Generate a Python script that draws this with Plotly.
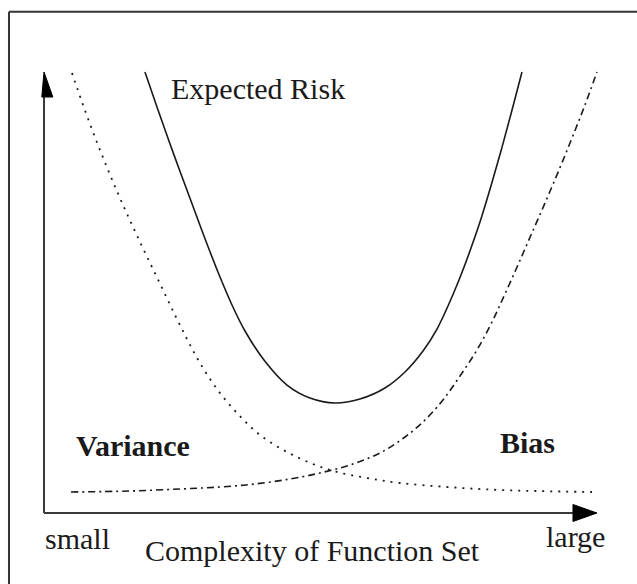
import plotly.graph_objects as go

# --- data (complexity on x: 0 = small, 10 = large; risk on y) ---
risk_x = [1.826, 2.043, 2.260, 2.477, 2.712, 2.948, 3.183, 3.400, 3.635, 3.978, 4.394, 4.810, 5.262,
          5.714, 6.166, 6.528, 6.854, 7.107, 7.306, 7.505, 7.703, 7.902, 8.083, 8.264, 8.445, 8.644]
risk_y = [10.0, 9.206, 8.435, 7.687, 6.893, 6.100, 5.351, 4.717, 4.127, 3.469, 2.902, 2.608, 2.494,
          2.585, 2.834, 3.197, 3.673, 4.172, 4.694, 5.283, 5.941, 6.667, 7.415, 8.209, 9.048, 10.0]

var_x = [0.506, 0.687, 0.886, 1.085, 1.302, 1.519, 1.736, 1.953, 2.170, 2.387, 2.604, 2.821, 3.128,
         3.490, 3.906, 4.394, 4.864, 5.298, 5.841, 6.438, 7.288, 8.246, 9.910]
var_y = [9.977, 9.320, 8.639, 8.005, 7.347, 6.735, 6.145, 5.578, 5.011, 4.444, 3.900, 3.401, 2.812,
         2.268, 1.769, 1.383, 1.111, 0.930, 0.794, 0.680, 0.590, 0.522, 0.476]

bias_x = [0.488, 1.555, 2.459, 3.183, 3.816, 4.448, 4.991, 5.533, 6.076, 6.528, 6.890, 7.215, 7.523,
          7.830, 8.101, 8.336, 8.571, 8.807, 9.060, 9.313, 9.548, 9.783, 10.0]
bias_y = [0.476, 0.499, 0.544, 0.590, 0.658, 0.771, 0.907, 1.088, 1.361, 1.723, 2.109, 2.562, 3.107,
          3.696, 4.331, 4.966, 5.624, 6.304, 7.029, 7.778, 8.503, 9.252, 10.0]

curve_labels = ["Expected Risk", "Variance", "Bias"]
axis_labels = ["small", "Complexity of Function Set", "large"]

INK = "#1a1a1a"
FONT = "Liberation Serif, Times New Roman, serif"

fig = go.Figure()
fig.add_trace(go.Scatter(x=risk_x, y=risk_y, mode="lines",
                         line=dict(color=INK, width=1.6, shape="spline", smoothing=1.0),
                         name=curve_labels[0], hoverinfo="skip"))
fig.add_trace(go.Scatter(x=var_x, y=var_y, mode="lines",
                         line=dict(color=INK, width=1.8, shape="spline", smoothing=1.0, dash="2px,6px"),
                         name=curve_labels[1], hoverinfo="skip"))
fig.add_trace(go.Scatter(x=bias_x, y=bias_y, mode="lines",
                         line=dict(color=INK, width=1.6, shape="spline", smoothing=1.0, dash="7px,4px,2px,4px"),
                         name=curve_labels[2], hoverinfo="skip"))

# axes with arrowheads (drawn as shapes in data coordinates)
AX_END = 10.0
fig.add_shape(type="line", x0=0, y0=0, x1=9.6, y1=0, line=dict(color="#3a3a3a", width=2))
fig.add_shape(type="line", x0=0, y0=0, x1=0, y1=9.5, line=dict(color="#3a3a3a", width=2))
fig.add_shape(type="path", path=f"M 9.566 0.193 L {AX_END} 0 L 9.566 -0.193 Z",
              fillcolor="black", line=dict(color="black", width=1))
fig.add_shape(type="path", path=f"M -0.04 9.433 L 0.0 {AX_END} L 0.16 9.433 Z",
              fillcolor="black", line=dict(color="black", width=1))

# frame (top and left edges visible)
fig.add_shape(type="line", xref="paper", yref="paper", x0=0.0141, y0=0.980, x1=1.02, y1=0.980,
              line=dict(color="#333", width=2))
fig.add_shape(type="line", xref="paper", yref="paper", x0=0.0141, y0=0.980, x1=0.0141, y1=-0.02,
              line=dict(color="#333", width=2))

def label(text, x, y, bold=False):
    fig.add_annotation(x=x, y=y, xref="x", yref="y", text=f"<b>{text}</b>" if bold else text,
                       showarrow=False, xanchor="center", yanchor="middle",
                       font=dict(family=FONT, size=30, color=INK))

label(curve_labels[0], 3.870, 9.615)
label(curve_labels[1], 1.618, 1.542, bold=True)
label(curve_labels[2], 8.752, 1.610, bold=True)
label(axis_labels[0], 0.606, -0.567)
label(axis_labels[1], 4.855, -0.839)
label(axis_labels[2], 9.620, -0.544)

fig.update_layout(
    width=637, height=584,
    margin=dict(l=0, r=0, t=0, b=0),
    paper_bgcolor="white", plot_bgcolor="white",
    showlegend=False,
    xaxis=dict(range=[-0.7957, 10.724], visible=False, fixedrange=True),
    yaxis=dict(range=[-1.610, 11.633], visible=False, fixedrange=True),
)
fig.write_html("out.html", config={"displayModeBar": False},
               post_script="document.body.style.margin='0';document.body.style.overflow='hidden';")
